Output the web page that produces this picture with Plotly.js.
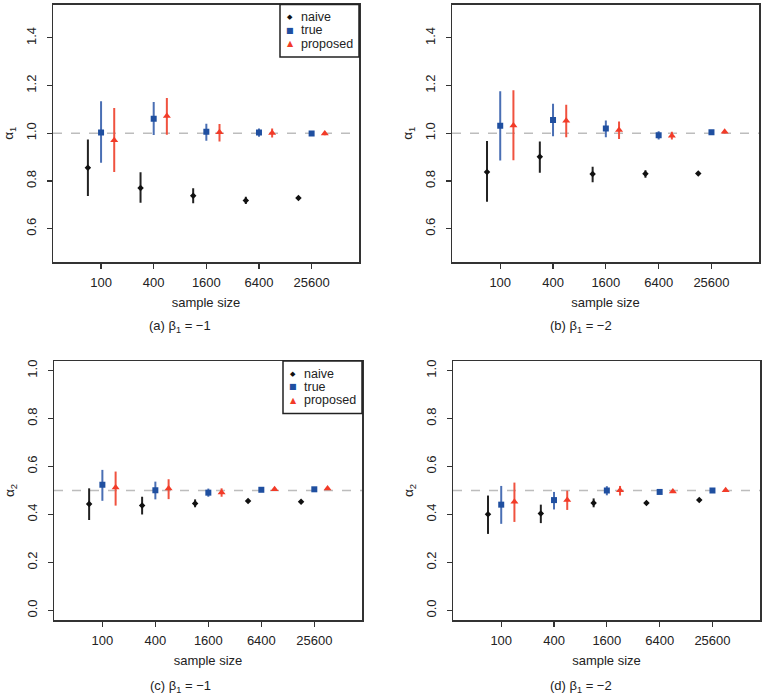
<!DOCTYPE html>
<html>
<head>
<meta charset="utf-8">
<script src="https://cdn.plot.ly/plotly-3.0.1.min.js"></script>
<style>
  html, body { margin: 0; padding: 0; background: #fff; }
  #chart { width: 764px; height: 695px; }
</style>
</head>
<body>
<div id="chart"></div>
<script>
// Sample sizes on the x axis (plotted at equally spaced positions)
const sampleSizes = [100, 400, 1600, 6400, 25600];
const tickLabels = ['100', '400', '1600', '6400', '25600'];
const methods = ['naive', 'true', 'proposed'];

// Reference values of the parameters (dashed lines)
const trueValues = [1.0, 1.0, 0.5, 0.5];

// (a) alpha1, beta1 = -1
const aNaive = [0.855, 0.770, 0.738, 0.718, 0.728];
const aNaiveLo = [0.737, 0.709, 0.706, 0.703, 0.722];
const aNaiveHi = [0.974, 0.836, 0.769, 0.734, 0.734];
const aTrue = [1.003, 1.061, 1.006, 1.003, 0.999];
const aTrueLo = [0.876, 0.993, 0.969, 0.985, 0.992];
const aTrueHi = [1.134, 1.131, 1.040, 1.020, 1.006];
const aProp = [0.971, 1.072, 1.004, 1.001, 0.999];
const aPropLo = [0.837, 0.994, 0.965, 0.982, 0.992];
const aPropHi = [1.106, 1.148, 1.039, 1.020, 1.006];

// (b) alpha1, beta1 = -2
const bNaive = [0.837, 0.901, 0.829, 0.830, 0.831];
const bNaiveLo = [0.713, 0.834, 0.795, 0.813, 0.825];
const bNaiveHi = [0.967, 0.965, 0.859, 0.845, 0.837];
const bTrue = [1.031, 1.056, 1.020, 0.992, 1.004];
const bTrueLo = [0.886, 0.987, 0.983, 0.974, 0.997];
const bTrueHi = [1.176, 1.124, 1.054, 1.008, 1.011];
const bProp = [1.032, 1.052, 1.014, 0.990, 1.006];
const bPropLo = [0.887, 0.983, 0.976, 0.974, 0.999];
const bPropHi = [1.180, 1.120, 1.049, 1.006, 1.013];

// (c) alpha2, beta1 = -1
const cNaive = [0.444, 0.437, 0.446, 0.456, 0.453];
const cNaiveLo = [0.377, 0.400, 0.430, 0.450, 0.448];
const cNaiveHi = [0.509, 0.474, 0.463, 0.462, 0.458];
const cTrue = [0.524, 0.501, 0.491, 0.503, 0.505];
const cTrueLo = [0.457, 0.463, 0.474, 0.497, 0.500];
const cTrueHi = [0.586, 0.537, 0.508, 0.509, 0.510];
const cProp = [0.512, 0.508, 0.492, 0.505, 0.508];
const cPropLo = [0.437, 0.464, 0.474, 0.499, 0.503];
const cPropHi = [0.579, 0.547, 0.509, 0.511, 0.513];

// (d) alpha2, beta1 = -2
const dNaive = [0.401, 0.404, 0.448, 0.448, 0.460];
const dNaiveLo = [0.319, 0.364, 0.430, 0.442, 0.455];
const dNaiveHi = [0.479, 0.441, 0.467, 0.454, 0.465];
const dTrue = [0.441, 0.460, 0.500, 0.494, 0.500];
const dTrueLo = [0.361, 0.421, 0.480, 0.488, 0.495];
const dTrueHi = [0.519, 0.494, 0.518, 0.500, 0.505];
const dProp = [0.453, 0.460, 0.501, 0.496, 0.501];
const dPropLo = [0.369, 0.419, 0.479, 0.490, 0.496];
const dPropHi = [0.533, 0.499, 0.519, 0.502, 0.506];

const captions = ['(a) β<sub>1</sub> = −1', '(b) β<sub>1</sub> = −2',
                  '(c) β<sub>1</sub> = −1', '(d) β<sub>1</sub> = −2'];
const yTitles = ['α<sub>1</sub>', 'α<sub>1</sub>', 'α<sub>2</sub>', 'α<sub>2</sub>'];

const panels = [
  [[aNaive, aNaiveLo, aNaiveHi], [aTrue, aTrueLo, aTrueHi], [aProp, aPropLo, aPropHi]],
  [[bNaive, bNaiveLo, bNaiveHi], [bTrue, bTrueLo, bTrueHi], [bProp, bPropLo, bPropHi]],
  [[cNaive, cNaiveLo, cNaiveHi], [cTrue, cTrueLo, cTrueHi], [cProp, cPropLo, cPropHi]],
  [[dNaive, dNaiveLo, dNaiveHi], [dTrue, dTrueLo, dTrueHi], [dProp, dPropLo, dPropHi]]
];

// Styling
const W = 764, H = 695;
const FONT = 'Liberation Sans, Arial, Helvetica, sans-serif';
const TEXT = '#222';
const FRAME = '#333';
const styles = [
  { symbol: 'diamond', size: 5, color: '#111', bar: '#222', dx: -0.25, glyph: '◆', gsize: 7 },
  { symbol: 'square', size: 6, color: '#1f4fa0', bar: '#4a6fb4', dx: 0, glyph: '■', gsize: 8 },
  { symbol: 'triangle-up', size: 7, color: '#f23b28', bar: '#f0523f', dx: 0.25, glyph: '▲', gsize: 8 }
];
// panel boxes in pixels: [left, right, top, bottom]
const boxes = [
  [53, 359, 4.5, 262],
  [452, 759, 4.5, 262],
  [54, 362, 361, 620],
  [453, 760, 361, 620]
];
const yRanges = [[0.46, 1.54], [0.46, 1.54], [-0.04, 1.04], [-0.04, 1.04]];
const yTicks = [[0.6, 0.8, 1.0, 1.2, 1.4], [0.6, 0.8, 1.0, 1.2, 1.4],
                [0, 0.2, 0.4, 0.6, 0.8, 1.0], [0, 0.2, 0.4, 0.6, 0.8, 1.0]];
// key boxes drawn in the top-right corner of panels (a) and (c)
const keyPanels = [0, 2];

const positions = sampleSizes.map((_, i) => i + 1);
const traces = [];
const layout = {
  width: W, height: H,
  margin: { l: 0, r: 0, t: 0, b: 0 },
  paper_bgcolor: '#fff', plot_bgcolor: '#fff',
  font: { family: FONT, size: 12, color: TEXT },
  showlegend: false,
  shapes: [], annotations: []
};

panels.forEach((series, p) => {
  const sfx = p === 0 ? '' : String(p + 1);
  const xa = 'x' + sfx, ya = 'y' + sfx;
  const [l, r, t, b] = boxes[p];

  series.forEach(([mean, lo, hi], m) => {
    const st = styles[m];
    traces.push({
      type: 'scatter', mode: 'markers',
      x: positions.map(v => v + st.dx), y: mean,
      xaxis: xa, yaxis: ya,
      name: methods[m],
      marker: { symbol: st.symbol, size: st.size, color: st.color },
      error_y: {
        type: 'data', symmetric: false,
        array: hi.map((h, i) => h - mean[i]),
        arrayminus: lo.map((v, i) => mean[i] - v),
        color: st.bar, thickness: 2, width: 0
      },
      hoverinfo: 'x+y'
    });
  });

  layout['xaxis' + sfx] = {
    domain: [l / W, r / W], anchor: ya,
    range: [0.087, 5.9],
    tickvals: positions, ticktext: tickLabels,
    ticks: 'outside', ticklen: 5, tickwidth: 1.2, tickcolor: FRAME,
    showline: true, mirror: true, linecolor: FRAME, linewidth: 1.5,
    showgrid: false, zeroline: false,
    tickfont: { family: FONT, size: 13, color: TEXT },
    ticklabelstandoff: 3,
    title: { text: 'sample size', font: { family: FONT, size: 13, color: TEXT }, standoff: 9 }
  };
  layout['yaxis' + sfx] = {
    domain: [1 - b / H, 1 - t / H], anchor: xa,
    range: yRanges[p],
    tickvals: yTicks[p], ticktext: yTicks[p].map(v => v.toFixed(1)),
    tickangle: -90,
    ticks: 'outside', ticklen: 5, tickwidth: 1.2, tickcolor: FRAME,
    showline: true, mirror: true, linecolor: FRAME, linewidth: 1.5,
    showgrid: false, zeroline: false,
    tickfont: { family: FONT, size: 13, color: TEXT },
    ticklabelstandoff: 5,
    title: { text: yTitles[p], font: { family: FONT, size: 13.5, color: TEXT }, standoff: 7 }
  };

  // dashed reference line at the true parameter value
  layout.shapes.push({
    type: 'line', xref: xa + ' domain', yref: ya,
    x0: 0, x1: 1, y0: trueValues[p], y1: trueValues[p],
    line: { color: '#bdbdbd', width: 1.5, dash: 'dash' }, layer: 'below'
  });

  // sub-figure caption
  layout.annotations.push({
    xref: 'paper', yref: 'paper',
    x: (p % 2 === 0 ? 180 : 581) / W,
    y: 1 - (p < 2 ? 326 : 686) / H,
    text: captions[p], showarrow: false,
    xanchor: 'center', yanchor: 'middle',
    font: { family: FONT, size: 13, color: TEXT }
  });

  // key in the top-right corner
  if (keyPanels.includes(p)) {
    const kw = 79, kh = 52.5, rowH = 13.3;
    layout.shapes.push({
      type: 'rect', xref: 'paper', yref: 'paper',
      x0: (r - kw) / W, x1: r / W, y0: 1 - (t + kh) / H, y1: 1 - t / H,
      line: { color: '#222', width: 1.5 }, fillcolor: '#fff', layer: 'above'
    });
    methods.forEach((name, m) => {
      const yc = 1 - (t + 12.5 + m * rowH) / H;
      layout.annotations.push({
        xref: 'paper', yref: 'paper', x: (r - kw + 10) / W, y: yc,
        text: styles[m].glyph, showarrow: false, xanchor: 'center', yanchor: 'middle',
        font: { family: 'DejaVu Sans', size: styles[m].gsize, color: styles[m].color }
      });
      layout.annotations.push({
        xref: 'paper', yref: 'paper', x: (r - kw + 19) / W, y: yc,
        text: name, showarrow: false, xanchor: 'left', yanchor: 'middle',
        font: { family: FONT, size: 12.5, color: TEXT }
      });
    });
  }
});

Plotly.newPlot('chart', traces, layout, { displayModeBar: false, staticPlot: true });
</script>
</body>
</html>
